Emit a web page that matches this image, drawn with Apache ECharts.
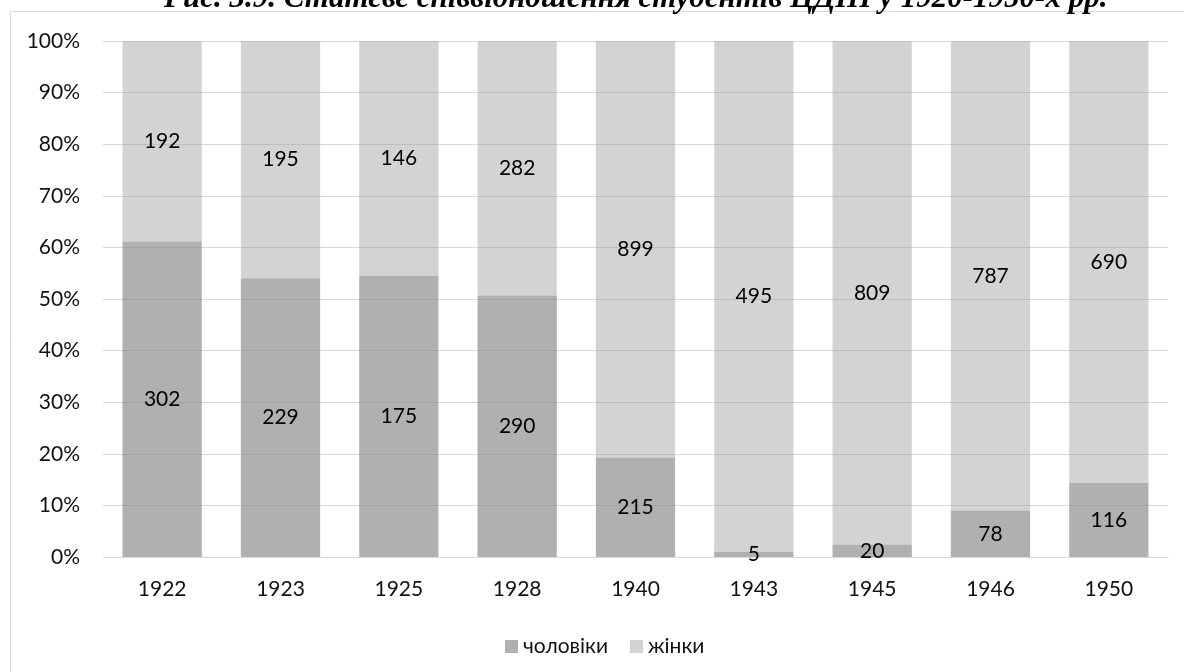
<!DOCTYPE html>
<html>
<head>
<meta charset="utf-8">
<script src="https://cdn.jsdelivr.net/npm/echarts@6/dist/echarts.min.js"></script>
<style>
  html, body { margin: 0; padding: 0; background: #fff; }
  #main { width: 1184px; height: 672px; }
</style>
</head>
<body>
<div id="main"></div>
<script>
// роки та кількість студентів
var years = ['1922', '1923', '1925', '1928', '1940', '1943', '1945', '1946', '1950'];
var men = [302, 229, 175, 290, 215, 5, 20, 78, 116];
var women = [192, 195, 146, 282, 899, 495, 809, 787, 690];

// частки у відсотках (100% stacked)
var menPct = men.map(function (v, i) { return v / (v + women[i]) * 100; });
var womenPct = women.map(function (v, i) { return v / (men[i] + v) * 100; });

var font = 'Lato, "Open Sans", sans-serif';
var myChart = echarts.init(document.getElementById('main'));

var option = {
  animation: false,
  textStyle: { fontFamily: font },
  graphic: [
    {
      type: 'rect',
      z: 1,
      shape: { x: 10.5, y: 11.5, width: 1300, height: 800 },
      style: { fill: 'none', stroke: '#d9d9d9', lineWidth: 1 }
    },
    {
      type: 'text',
      z: 10,
      left: 164,
      top: -17,
      style: {
        text: 'Рис. 3.9. Статеве співвідношення студентів ЦДПІ у 1920-1950-х рр.',
        font: 'italic bold 31px "Liberation Serif", "DejaVu Serif", serif',
        fill: '#000'
      }
    }
  ],
  legend: {
    left: 500,
    top: 631,
    itemWidth: 13,
    itemHeight: 13,
    itemGap: 22,
    icon: 'rect',
    textStyle: { fontSize: 21, color: '#111', fontFamily: font },
    data: ['чоловіки', 'жінки']
  },
  grid: { left: 103, right: 16, top: 41, bottom: 115 },
  xAxis: {
    type: 'category',
    data: years,
    axisLine: { lineStyle: { color: '#d9d9d9' } },
    axisTick: { show: false },
    axisLabel: { fontSize: 21, color: '#111', margin: 22 }
  },
  yAxis: {
    type: 'value',
    min: 0,
    max: 100,
    interval: 10,
    axisLabel: { formatter: '{value}%', fontSize: 21, color: '#111', margin: 23 },
    splitLine: { lineStyle: { color: '#d9d9d9' } }
  },
  series: [
    {
      name: 'чоловіки',
      type: 'bar',
      stack: 'total',
      barCategoryGap: '33%',
      data: menPct,
      itemStyle: { color: 'rgba(128,128,128,0.62)' },
      label: {
        show: true,
        position: 'inside',
        fontSize: 21,
        color: '#000',
        formatter: function (p) { return men[p.dataIndex]; }
      }
    },
    {
      name: 'жінки',
      type: 'bar',
      stack: 'total',
      data: womenPct,
      itemStyle: { color: 'rgba(160,160,160,0.46)' },
      label: {
        show: true,
        position: 'inside',
        fontSize: 21,
        color: '#000',
        formatter: function (p) { return women[p.dataIndex]; }
      }
    }
  ]
};

myChart.setOption(option);
</script>
</body>
</html>
